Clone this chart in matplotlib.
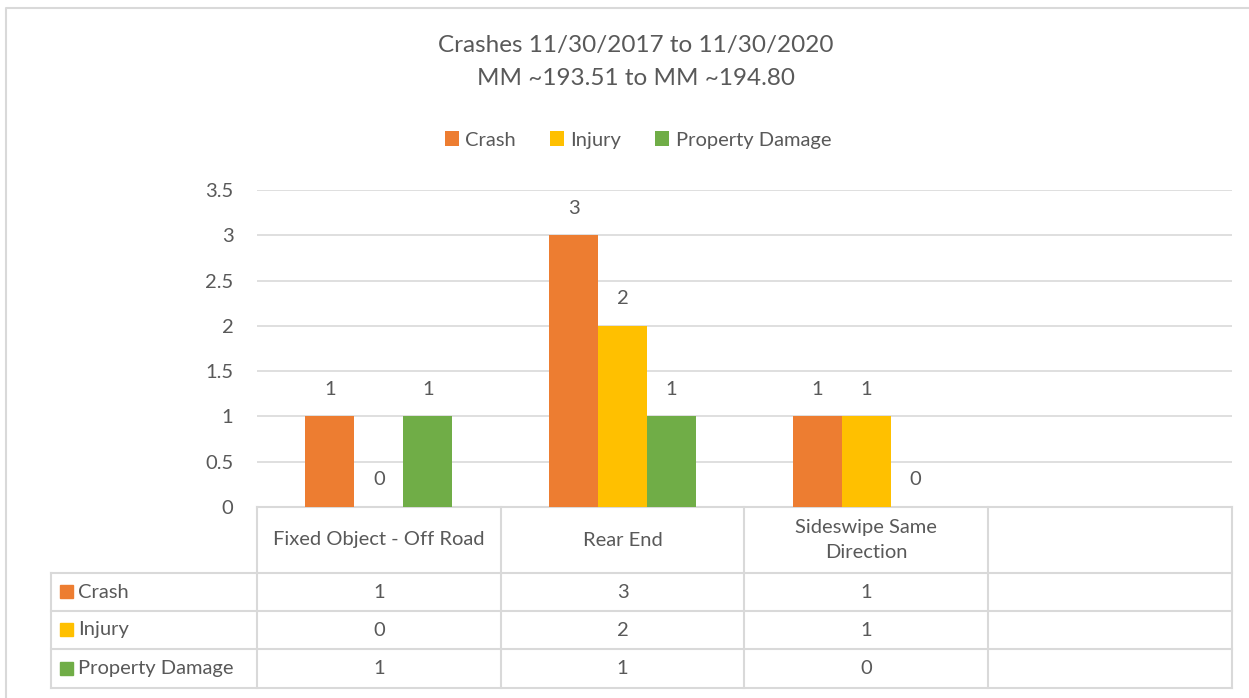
import numpy as np
import matplotlib.pyplot as plt
from matplotlib.patches import Rectangle

# data
categories = ["Fixed Object - Off Road", "Rear End", "Sideswipe Same\nDirection", ""]
series_names = ["Crash", "Injury", "Property Damage"]
crash = [1, 3, 1, None]
injury = [0, 2, 1, None]
property_damage = [1, 1, 0, None]
yticks = [0, 0.5, 1, 1.5, 2, 2.5, 3, 3.5]

colors = ["#ED7D31", "#FFC000", "#70AD47"]
txt = "#595959"
grid = "#D9D9D9"
W, H = 1249, 698

plt.rcParams['font.family'] = ['Lato', 'DejaVu Sans']

fig = plt.figure(figsize=(W / 100, H / 100), dpi=100)

# pixel-coordinate overlay for border and data table
ov = fig.add_axes([0, 0, 1, 1])
ov.set_xlim(0, W)
ov.set_ylim(H, 0)
ov.axis('off')

# plot area in pixels
px0, px1, py0, py1 = 257, 1232, 507, 190
ax = fig.add_axes([px0 / W, 1 - py0 / H, (px1 - px0) / W, (py0 - py1) / H])
ax.set_zorder(2)
ax.patch.set_alpha(0)

n = len(categories)
x = np.arange(n)
bw = 0.201
all_series = [crash, injury, property_damage]
handles = []
for i, (vals, col, name) in enumerate(zip(all_series, colors, series_names)):
    xs = [xi + (i - 1) * bw for xi, v in zip(x, vals) if v is not None]
    vs = [v for v in vals if v is not None]
    b = ax.bar(xs, vs, width=bw, color=col, label=name, zorder=3)
    handles.append(b)
    for xi, v in zip(xs, vs):
        ax.annotate(str(v), (xi, v), xytext=(0, 19.5), textcoords='offset points',
                    ha='center', va='center', fontsize=14.5, color=txt)

ax.set_xlim(-0.5, n - 0.5)
ax.set_ylim(0, 3.5)
ax.set_yticks(yticks)
ax.set_yticklabels([f"{t:g}" for t in yticks], fontsize=14.5, color=txt)
ax.tick_params(axis='y', length=0, pad=17)
ax.set_xticks([])
ax.grid(axis='y', color=grid, linewidth=1.2, zorder=0)
for s in ax.spines.values():
    s.set_visible(False)

# title and legend
fig.text(636 / W, 1 - 62 / H, "Crashes 11/30/2017 to 11/30/2020\nMM ~193.51 to MM ~194.80",
         ha='center', va='center', fontsize=17.5, color=txt, linespacing=1.7)
fig.legend(handles=handles, loc='center', bbox_to_anchor=(638 / W, 1 - 140 / H), ncol=3,
           frameon=False, fontsize=14.5, labelcolor=txt, handlelength=0.7, handleheight=0.7,
           handletextpad=0.3, columnspacing=1.7)

# outer chart border
ov.plot([6, 6, W + 5], [H + 5, 8, 8], color=grid, lw=1.5, clip_on=False)

# data table
col_edges = [px0 + k * (px1 - px0) / n for k in range(n + 1)]
row_edges = [507, 573, 611, 649, 688]
lx = 51
lc = "#D9D9D9"
ov.plot([px0, px1], [row_edges[0], row_edges[0]], color=lc, lw=1.5)
for yr in row_edges[1:]:
    ov.plot([lx, px1], [yr, yr], color=lc, lw=1.5)
for xc in col_edges:
    ov.plot([xc, xc], [row_edges[0], row_edges[-1]], color=lc, lw=1.5)
ov.plot([lx, lx], [row_edges[1], row_edges[-1]], color=lc, lw=1.5)

for k, cat in enumerate(categories):
    cx = (col_edges[k] + col_edges[k + 1]) / 2
    ov.text(cx, (row_edges[0] + row_edges[1]) / 2, cat, ha='center', va='center',
            fontsize=14.5, color=txt, linespacing=1.6)

for r, (vals, col, name) in enumerate(zip(all_series, colors, series_names)):
    cy = (row_edges[r + 1] + row_edges[r + 2]) / 2
    ov.add_patch(Rectangle((60, cy - 7), 13, 13, color=col))
    ov.text(78, cy, name, ha='left', va='center', fontsize=14.5, color=txt)
    for k, v in enumerate(vals):
        if v is None:
            continue
        cx = (col_edges[k] + col_edges[k + 1]) / 2
        ov.text(cx, cy, str(v), ha='center', va='center', fontsize=14.5, color=txt)

fig.savefig("out.png", dpi=100, facecolor='white')
